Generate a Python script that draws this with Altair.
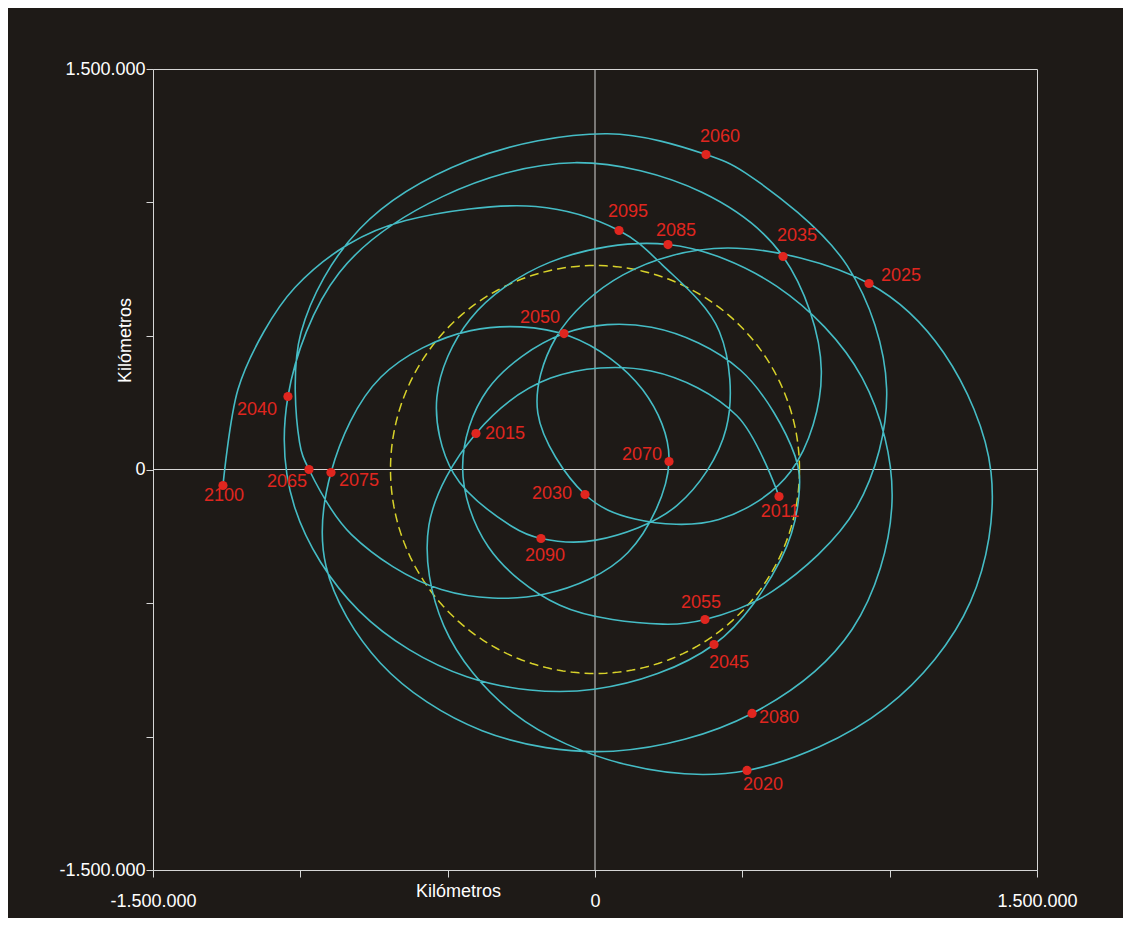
import altair as alt
import pandas as pd
import numpy as np

# ---------------- data (thousand km) ----------------
path_x = [624.5, 481.6, 190.0, -150.5, -403.9, -563.6, -513.0, -277.4, 105.2, 515.9,
          986.8, 1274.0, 1344.0, 1183.4, 929.9, 449.9, 95.2, -132.0, -194.0, -33.9,
          135.6, 420.2, 664.0, 768.1, 638.1, 362.5, -70.7, -517.7, -868.0, -1042.0,
          -1019.8, -800.6, -434.8, -2.9, 403.9, 632.1, 692.4, 678.8, 493.9, 192.1, -105.2,
          -364.3, -449.3, -362.2, -119.0, 229.5, 373.3, 601.6, 887.6, 989.7, 856.3,
          510.2, 376.7, 42.7, -429.2, -798.7, -997.7, -1002.7, -970.7, -826.3, -521.5,
          -173.7, 112.0, 251.2, 161.9, -87.6, -421.6, -727.1, -896.0, -912.7, -728.6,
          -383.0, 61.7, 532.9, 872.3, 1008.0, 906.7, 617.1, 247.8, -152.1, -423.8,
          -536.6, -480.1, -280.0, -183.3, 2.6, 278.6, 445.1, 422.0, 227.4, 81.5,
          -201.2, -642.6, -838.3, -1018.3, -1123.4, -1211.7, -1262.6]
path_y = [-101.1, 201.4, 369.1, 342.3, 134.8, -208.7, -585.5, -911.2, -1105.0, -1127.2,
          -891.8, -495.7, -10.6, 437.1, 696.6, 829.7, 728.9, 495.3, 210.8, -93.6,
          -185.4, -187.3, -7.5, 368.8, 797.7, 1038.2, 1149.1, 1022.0, 737.0, 273.4,
          -139.3, -529.5, -776.0, -823.2, -655.4, -333.4, -93.6, 51.0, 371.7, 532.5, 509.3,
          299.7, 8.1, -289.2, -508.8, -579.3, -561.8, -456.6, -141.8, 302.7, 762.4,
          1111.0, 1179.7, 1257.3, 1157.0, 900.6, 512.8, 101.7, 0.0, -243.8, -449.3,
          -467.3, -310.9, 30.0, 298.3, 500.3, 520.1, 345.5, -11.2, -362.5, -724.5,
          -978.3, -1055.0, -913.8, -599.2, -119.2, 343.1, 685.8, 842.6, 776.7, 563.1,
          271.0, -14.7, -214.6, -258.4, -264.6, -134.5, 153.3, 517.0, 767.4, 895.1,
          985.0, 932.5, 842.6, 681.6, 516.8, 299.6, -59.9]

years = ["2011", "2015", "2020", "2025", "2030", "2035", "2040", "2045", "2050", "2055",
         "2060", "2065", "2070", "2075", "2080", "2085", "2090", "2095", "2100"]
dot_x = [624.5, -403.9, 515.9, 929.9, -33.9, 638.1, -1042.0, 403.9, -105.2, 373.3,
         376.7, -970.7, 251.2, -896.0, 532.9, 247.8, -183.3, 81.5, -1262.6]
dot_y = [-101.1, 134.8, -1127.2, 696.6, -93.6, 797.7, 273.4, -655.4, 509.3, -561.8,
         1179.7, 0.0, 30.0, -11.2, -913.8, 842.6, -258.4, 895.1, -59.9]

SUN_RX = 694.0   # thousand km (horizontal radius of dashed circle)
SUN_RY = 764.0   # thousand km (vertical radius of dashed circle)

axis_values = [-1500000, -1000000, -500000, 0, 500000, 1000000, 1500000]

# ---------------- styling ----------------
BG = "#1e1a17"
CYAN = "#45bcc5"
RED = "#e0261f"
YELLOW = "#d8d22a"
AXIS = "#d6d6d6"
FONT = "Liberation Sans"

label_offsets = {
    "2011": (1, 16), "2015": (29, 0), "2020": (16, 15), "2025": (32, -8),
    "2030": (-33, 0), "2035": (14, -21), "2040": (-31, 13), "2045": (15, 19),
    "2050": (-24, -16), "2055": (-4, -17), "2060": (14, -18), "2065": (-22, 12),
    "2070": (-27, -6), "2075": (28, 9), "2080": (27, 5), "2085": (8, -14),
    "2090": (4, 18), "2095": (9, -19), "2100": (1, 11),
}

df_path = pd.DataFrame({"i": np.arange(len(path_x)),
                        "x": np.array(path_x) * 1000, "y": np.array(path_y) * 1000})
theta = np.linspace(0, 2 * np.pi, 241)
df_sun = pd.DataFrame({"i": np.arange(len(theta)),
                       "x": SUN_RX * 1000 * np.cos(theta),
                       "y": SUN_RY * 1000 * np.sin(theta)})
df_dots = pd.DataFrame({"year": years,
                        "x": np.array(dot_x) * 1000, "y": np.array(dot_y) * 1000})

xs = alt.Scale(domain=[-1500000, 1500000], nice=False, zero=False)
ys = alt.Scale(domain=[-1500000, 1500000], nice=False, zero=False)

lab_expr = ("datum.value == 0 ? '0' : datum.value == 1500000 ? '1.500.000' : "
            "datum.value == -1500000 ? '-1.500.000' : ''")

x_axis = alt.Axis(values=axis_values, labelExpr=lab_expr, grid=False, tickSize=7,
                  tickColor=AXIS, domainColor=AXIS, labelColor="#ffffff",
                  labelFont=FONT, labelFontSize=18, labelPadding=15,
                  labelFlush=False, labelOverlap=False,
                  title="Kilómetros", titleColor="#ffffff", titleFont=FONT,
                  titleFontSize=18, titleFontWeight="normal",
                  titleX=305, titleY=21, titleBaseline="middle", titleAlign="center")
y_axis = alt.Axis(values=axis_values, labelExpr=lab_expr, grid=False, tickSize=7,
                  tickColor=AXIS, domainColor=AXIS, labelColor="#ffffff",
                  labelFont=FONT, labelFontSize=18, labelPadding=1,
                  labelFlush=False, labelOverlap=False,
                  title="Kilómetros", titleColor="#ffffff", titleFont=FONT,
                  titleFontSize=18, titleFontWeight="normal", titleAngle=270,
                  titleX=-28, titleY=271, titleBaseline="middle", titleAlign="center")

X = alt.X("x:Q", scale=xs, axis=x_axis)
Y = alt.Y("y:Q", scale=ys, axis=y_axis)

zero_v = alt.Chart(pd.DataFrame({"x": [0]})).mark_rule(color=AXIS, strokeWidth=1).encode(x=X)
zero_h = alt.Chart(pd.DataFrame({"y": [0]})).mark_rule(color=AXIS, strokeWidth=1).encode(y=Y)

sun = alt.Chart(df_sun).mark_line(color=YELLOW, strokeWidth=1.5, strokeDash=[9, 5]).encode(
    x=X, y=Y, order="i:Q")

path = alt.Chart(df_path).mark_line(color=CYAN, strokeWidth=1.6,
                                    interpolate="catmull-rom").encode(
    x=X, y=Y, order="i:Q")

dots = alt.Chart(df_dots).mark_point(filled=True, color=RED, size=85, opacity=1).encode(
    x=X, y=Y)

labels = []
for yr in years:
    dx, dy = label_offsets[yr]
    labels.append(
        alt.Chart(df_dots[df_dots["year"] == yr]).mark_text(
            color=RED, font=FONT, fontSize=18, dx=dx, dy=dy,
            align="center", baseline="middle").encode(
            x=X, y=Y, text="year:N"))

chart = alt.layer(zero_v, zero_h, sun, path, dots, *labels).properties(
    width=884, height=801,
    padding={"left": 145, "top": 61, "right": 86, "bottom": 48},
    autosize=alt.AutoSizeParams(type="none"),
).configure(background=BG).configure_view(stroke=AXIS, strokeWidth=1)

chart.save("out.html", embed_options={"renderer": "svg", "actions": False})
